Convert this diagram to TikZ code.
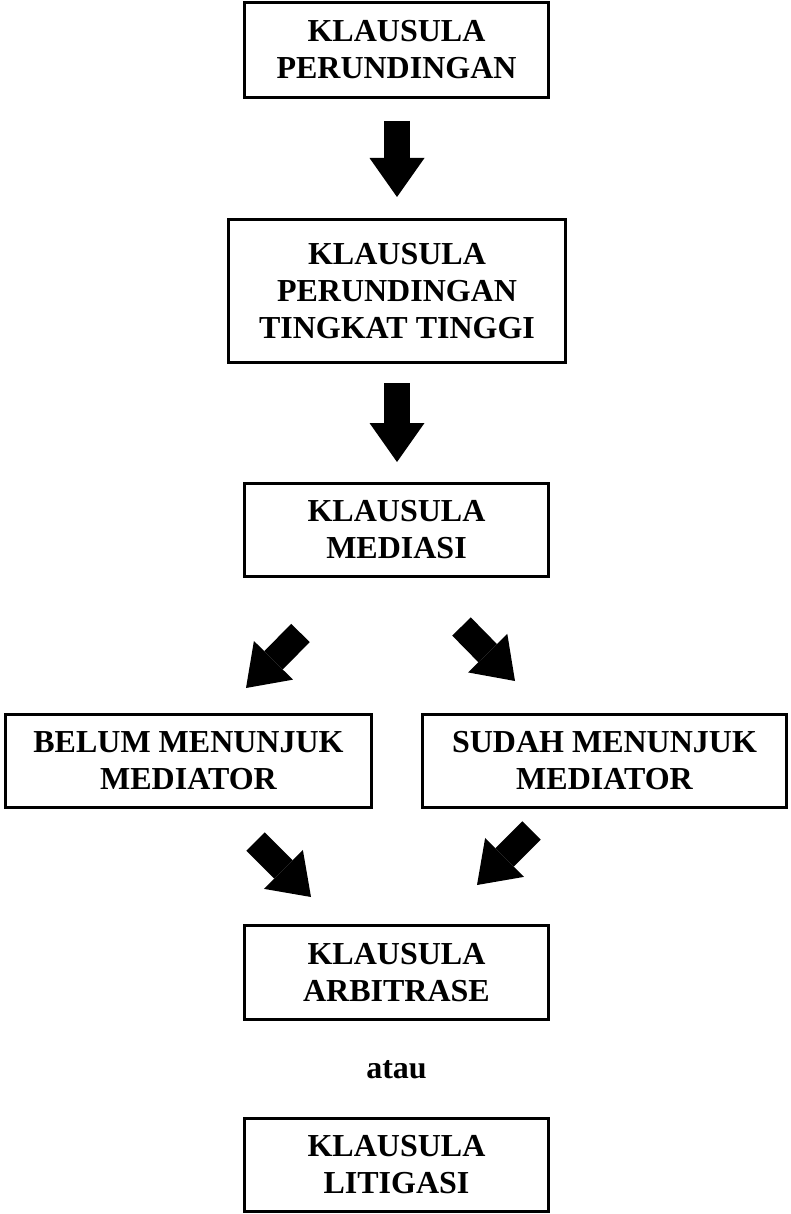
\documentclass[tikz,border=0pt]{standalone}
\usepackage{fontspec}
\setmainfont{Liberation Serif}
\usetikzlibrary{arrows.meta}
\begin{document}
\begin{tikzpicture}[x=1pt,y=-1pt,
  box/.style={draw,line width=3pt,rectangle,align=center,inner sep=0pt,
    font=\fontsize{32}{37}\selectfont\bfseries},
  lbl/.style={inner sep=0pt,font=\fontsize{32}{37}\selectfont\bfseries},
  blockarrow/.style={draw=black,line width=26pt,
    -{Triangle[width=55pt,length=39pt,line width=0pt]}}]
\useasboundingbox (0,0) rectangle (790,1214);
\fill[white] (0,0) rectangle (790,1214);

\node[box,minimum width=304pt,minimum height=95pt] (k1) at (396.5,50) {KLAUSULA\\PERUNDINGAN};
\node[box,minimum width=337pt,minimum height=143pt] (k2) at (397,291) {KLAUSULA\\PERUNDINGAN\\TINGKAT TINGGI};
\node[box,minimum width=304pt,minimum height=93pt] (k3) at (396.5,530) {KLAUSULA\\MEDIASI};
\node[box,minimum width=366pt,minimum height=93pt] (k4) at (188.5,761) {BELUM MENUNJUK\\MEDIATOR};
\node[box,minimum width=364pt,minimum height=93pt] (k5) at (604.5,761) {SUDAH MENUNJUK\\MEDIATOR};
\node[box,minimum width=304pt,minimum height=94pt] (k6) at (396.5,972.5) {KLAUSULA\\ARBITRASE};
\node[lbl,anchor=base] (atau) at (396.5,1078) {atau};
\node[box,minimum width=304pt,minimum height=93pt] (k7) at (396.5,1165) {KLAUSULA\\LITIGASI};

\coordinate (a1s) at (397,121);   \coordinate (a1e) at (397,197);
\coordinate (a2s) at (397,383);   \coordinate (a2e) at (397,462);
\coordinate (a3s) at (300.5,633); \coordinate (a3e) at (246,688);
\coordinate (a4s) at (461.5,626.5); \coordinate (a4e) at (515,681);
\coordinate (a5s) at (255.5,841.5); \coordinate (a5e) at (311,897);
\coordinate (a6s) at (531.5,830.5); \coordinate (a6e) at (477,885);

\draw[blockarrow] (a1s) -- (a1e);
\draw[blockarrow] (a2s) -- (a2e);
\draw[blockarrow] (a3s) -- (a3e);
\draw[blockarrow] (a4s) -- (a4e);
\draw[blockarrow] (a5s) -- (a5e);
\draw[blockarrow] (a6s) -- (a6e);
\end{tikzpicture}
\end{document}
